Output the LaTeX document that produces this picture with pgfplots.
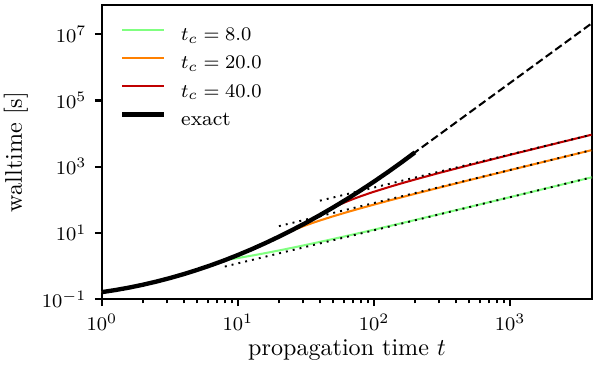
\documentclass[border=0pt]{standalone}
\usepackage{pgfplots}
\pgfplotsset{compat=1.18}
\definecolor{tcgreen}{HTML}{80FF80}
\definecolor{tcorange}{HTML}{FF8000}
\definecolor{tcred}{HTML}{C00000}

\pgfplotstableread{
t y
1 0.162
1.259 0.1875
1.585 0.222
1.995 0.270
2.512 0.337
3.162 0.431
3.981 0.565
5.012 0.760
6.310 1.049
7.943 1.48
10 2.15
12.59 3.20
15.85 4.89
19.95 7.65
25.12 12.3
31.62 20.2
39.81 34.1
50.12 59.0
63.10 104.8
79.43 190.8
100 356
125.9 682
158.5 1340
199.5 2700
}\exacttab

\begin{document}
\begin{tikzpicture}
\begin{axis}[
  scale only axis, width=203.4pt, height=122pt,
  xmode=log, ymode=log,
  xmin=1, xmax=4000, ymin=0.1, ymax=7.7e7,
  xtick={1,10,100,1000}, ytick={1e-1,1e1,1e3,1e5,1e7},
  yminorticks=false,
  xtick pos=bottom, ytick pos=left, tick align=outside,
  major tick length=2.9pt, minor tick length=1.8pt,
  major tick style={line width=0.9pt, black},
  minor tick style={line width=0.7pt, black},
  axis line style={line width=1pt},
  tick label style={font=\fontsize{8.4}{10}\selectfont},
  label style={font=\fontsize{10}{12}\selectfont},
  xlabel={propagation time $t$}, ylabel={walltime [s]},
  xlabel style={at={(axis description cs:0.5,-0.174)}, anchor=center},
  ylabel style={at={(axis description cs:-0.1755,0.5)}, anchor=center},
  legend style={at={(axis description cs:0,1)}, anchor=north west,
    xshift=7.5pt, yshift=-8.8pt, draw=none, fill=none,
    inner sep=0pt, outer sep=0pt, row sep=3.7pt,
    font=\fontsize{8.4}{10}\selectfont,
    nodes={inner sep=0pt, text height=6pt, text depth=2pt},
    /tikz/every odd column/.append style={column sep=6.2pt}},
  legend cell align=left,
  legend image code/.code={\draw[#1] (0pt,2.5pt) -- (17.4pt,2.5pt);},
]
% t_c = 8
\addplot[tcgreen, line width=0.85pt] coordinates {
 (1,0.162) (1.585,0.222) (2.512,0.337) (3.981,0.565) (6.310,1.049) (7.943,1.48)
 (8,1.50) (10,1.74) (13,2.10) (16,2.46) (20,2.94) (25,3.54) (32,4.38) (40,5.34)
 (50,6.54) (63,8.10) (80,10.14) (100,12.54) (150,18.54) (200,24.54) (300,36.54)
 (500,60.54) (1000,120.54) (2000,240.54) (4000,480.5)};
\addlegendentry{$t_c = 8.0$}
% t_c = 20
\addplot[tcorange, line width=0.85pt] coordinates {
 (1,0.162) (1.585,0.222) (2.512,0.337) (3.981,0.565) (6.310,1.049) (10,2.15)
 (12.59,3.20) (15.85,4.89) (19.95,7.65)
 (20,7.7) (22,9.3) (25,11.7) (28,14.1) (32,17.3) (36,20.5) (40,23.7) (50,31.7)
 (63,42.1) (80,55.7) (100,71.7) (130,95.7) (160,119.7) (200,151.7) (300,231.7)
 (500,391.7) (1000,791.7) (2000,1591.7) (4000,3191.7)};
\addlegendentry{$t_c = 20.0$}
% t_c = 40
\addplot[tcred, line width=0.85pt] coordinates {
 (1,0.162) (1.585,0.222) (2.512,0.337) (3.981,0.565) (6.310,1.049) (10,2.15)
 (15.85,4.89) (19.95,7.65) (25.12,12.3) (31.62,20.2) (39.81,34.1)
 (40,34.5) (45,46.25) (50,58) (56,72.1) (63,88.55) (71,107.35) (80,128.5)
 (90,152) (100,175.5) (130,246) (160,316.5) (200,410.5) (300,645.5)
 (500,1115.5) (1000,2290.5) (2000,4640.5) (4000,9340.5)};
\addlegendentry{$t_c = 40.0$}
% asymptotes
\addplot[forget plot, black, line width=0.8pt, dash pattern=on 0.8pt off 2.1pt]
 coordinates {(8,0.96) (4000,480)};
\addplot[forget plot, black, line width=0.8pt, dash pattern=on 0.8pt off 2.1pt]
 coordinates {(20,16) (4000,3200)};
\addplot[forget plot, black, line width=0.8pt, dash pattern=on 0.8pt off 2.1pt]
 coordinates {(40,94) (4000,9400)};
% extrapolation
\addplot[forget plot, black, line width=0.85pt, dash pattern=on 3.3pt off 1.6pt]
 coordinates {(100,340) (4000,2.2e7)};
% exact
\addplot[black, line width=1.8pt] table[x=t, y=y] {\exacttab};
\addlegendentry{exact}
\end{axis}
\pgfresetboundingbox
\path (-42.3pt,-31.5pt) rectangle (209.6pt,124.1pt);
\end{tikzpicture}
\end{document}
